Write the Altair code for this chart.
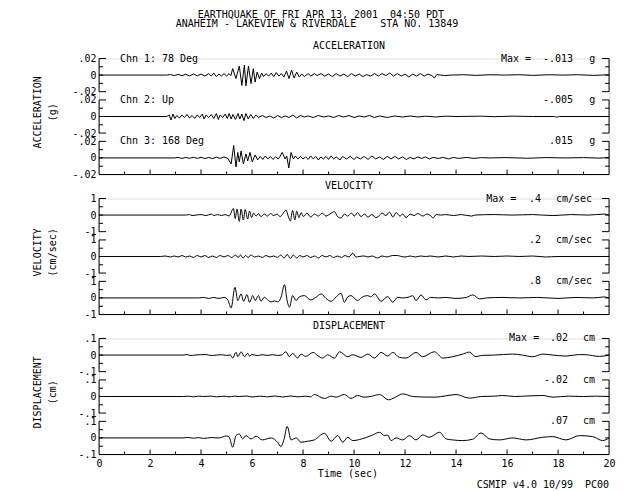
import altair as alt
import pandas as pd

FONT = "DejaVu Sans Mono"

# ---------------- data: (time s, value) turning points read from the records ----------------
ACC1 = [(0,0),(2.65,0),(2.8,.0006),(2.95,-.0006),(3.1,.0008),(3.25,-.0007),(3.4,.001),(3.55,-.001),(3.7,.0012),
        (3.85,-.0008),(4.0,.0012),(4.15,-.0012),(4.3,.0018),(4.4,-.0012),(4.5,.0024),(4.6,-.0018),(4.7,.0012),
        (4.8,-.0012),(4.9,.0018),(5.0,-.0012),(5.1,.0018),(5.17,-.0006),(5.24,.0078),(5.37,-.0042),(5.5,.0109),
        (5.6,-.0125),(5.7,.0121),(5.76,-.013),(5.86,.0109),(5.96,-.0103),(6.05,.0078),(6.12,-.0085),(6.2,.0036),
        (6.29,-.0042),(6.38,.0024),(6.45,-.0018),(6.55,.0018),(6.65,-.0012),(6.75,.0024),(6.85,-.0018),(6.95,.003),
        (7.05,-.0012),(7.15,.0018),(7.25,-.0024),(7.35,.0048),(7.45,-.0042),(7.55,.006),(7.65,-.0036),(7.75,.0036),
        (7.85,-.0024),(7.95,.0012),(8.05,-.0018),(8.2,.0018),(8.3,-.0012),(8.45,.0018),(8.55,-.0006),(8.7,.0018),
        (8.85,-.0012),(9.0,.0012),(9.15,-.0018),(9.3,.0018),(9.45,-.0012),(9.6,.0012),(9.75,-.0018),(9.9,.0018),
        (10.05,-.0012),(10.2,.0012),(10.35,-.0018),(10.5,.0006),(10.65,-.0012),(10.8,.0018),(10.95,-.0012),
        (11.1,.0018),(11.25,-.0006),(11.4,.0024),(11.55,-.0012),(11.7,.0018),(11.85,-.0012),(12.0,.0012),
        (12.15,-.0024),(12.3,.0012),(12.45,-.0012),(12.6,.0018),(12.75,-.0012),(12.9,.0012),(13.05,-.0006),
        (13.15,-.0036),(13.25,.0006),(13.4,0),(13.55,-.0006),(13.8,0),(14.3,.0004),(14.8,-.0004),(15.3,.0004),
        (15.9,0),(16.5,.0004),(17.0,-.0004),(17.6,.0004),(18.2,0),(18.8,.0004),(19.4,-.0004),(20,.0004)]
ACC2 = [(0,0),(2.65,0),(2.75,.0018),(2.82,-.0042),(2.9,.003),(2.97,-.0024),(3.05,.0012),(3.15,-.0018),(3.25,.0018),
        (3.35,-.0012),(3.45,.0024),(3.55,-.0018),(3.65,.0012),(3.75,-.0024),(3.85,.0018),(3.95,-.0012),(4.05,.003),
        (4.12,-.003),(4.2,.0018),(4.3,-.0012),(4.4,.0024),(4.5,-.0024),(4.6,.0036),(4.68,-.0036),(4.75,.0018),
        (4.85,-.0012),(4.95,.003),(5.03,-.0024),(5.1,.0036),(5.18,-.003),(5.25,.0024),(5.35,-.0036),(5.45,.0036),
        (5.52,-.003),(5.6,.003),(5.68,-.005),(5.76,.0036),(5.85,-.003),(5.95,.0024),(6.05,-.0024),(6.15,.0018),
        (6.25,-.0012),(6.4,.0012),(6.55,-.0012),(6.7,.0006),(6.85,-.0018),(7.0,.0012),(7.15,-.0012),(7.3,.0006),
        (7.45,-.0012),(7.6,.0018),(7.75,-.0018),(7.9,.0012),(8.05,-.0006),(8.2,.0006),(8.4,-.0012),(8.6,.0012),
        (8.8,-.0006),(9.0,.0006),(9.2,-.0012),(9.4,.0012),(9.6,-.0006),(9.8,.0012),(10.0,-.0012),(10.2,.0006),
        (10.4,-.0006),(10.6,.0012),(10.8,-.0012),(11.0,.0006),(11.3,-.0012),(11.6,.0006),(11.9,-.0006),(12.2,.0006),
        (12.5,-.0006),(12.8,.0004),(13.2,-.0006),(13.6,.0004),(14.0,0),(15.0,.0004),(15.5,-.0002),(16.2,.0004),
        (17.0,0),(17.85,0),(17.9,-.0006),(18.0,-.0006),(18.05,0),(20,0)]
ACC3 = [(0,0),(2.95,0),(3.1,.0006),(3.25,-.0006),(3.4,.0006),(3.55,-.0004),(3.7,.0008),(3.85,-.0006),(4.0,.0008),
        (4.15,-.0008),(4.3,.0006),(4.45,-.0008),(4.6,.001),(4.75,-.0006),(4.9,.0012),(5.05,-.0006),(5.18,-.0072),
        (5.28,.015),(5.37,-.0109),(5.44,.0066),(5.5,-.0048),(5.57,.0084),(5.66,-.0072),(5.76,.0048),(5.83,-.0036),
        (5.92,.0066),(6.01,-.0048),(6.12,.0036),(6.22,-.0024),(6.32,.0018),(6.42,-.0018),(6.52,.0024),(6.62,-.0012),
        (6.72,.0018),(6.82,-.0018),(6.92,.0012),(7.03,-.0012),(7.1,.0018),(7.18,.0066),(7.3,-.0012),(7.36,.0024),
        (7.44,-.0121),(7.53,.0066),(7.62,-.0012),(7.7,.0024),(7.8,-.0012),(7.9,.0018),(8.0,-.0012),(8.1,.0012),
        (8.2,-.0018),(8.3,.0024),(8.4,-.0012),(8.5,.0018),(8.6,-.0024),(8.7,.0012),(8.8,-.0012),(8.9,.0018),
        (9.0,-.0018),(9.1,.0024),(9.2,-.0012),(9.3,.0012),(9.45,-.0024),(9.55,.0018),(9.7,-.0012),(9.85,.0018),
        (10.0,-.0018),(10.1,.0012),(10.25,-.0012),(10.4,.0018),(10.55,-.0018),(10.7,.0024),(10.85,-.0012),
        (11.0,.0012),(11.15,-.0018),(11.3,.0018),(11.45,-.0012),(11.6,.0018),(11.75,-.0012),(11.9,.0012),
        (12.05,-.0018),(12.2,.0006),(12.35,-.0012),(12.5,.0012),(12.65,-.0006),(12.8,.0012),(12.95,-.0012),
        (13.1,.0006),(13.3,-.0006),(13.5,.0006),(13.7,-.0012),(13.9,.0006),(14.1,-.0006),(14.4,.0006),
        (14.7,-.0006),(15.0,.0004),(15.3,0),(16.0,.0004),(16.8,-.0004),(17.5,.0004),(18.3,0),(19.0,.0004),
        (19.6,-.0002),(20,.0004)]
VEL1 = [(0,0),(3.4,0),(3.55,.03),(3.65,-.03),(3.8,0),(4.0,.03),(4.2,-.03),(4.4,.06),(4.5,-.03),(4.65,.03),
        (4.8,-.03),(4.95,.03),(5.1,-.06),(5.27,.4),(5.34,-.2),(5.41,.36),(5.5,-.38),(5.57,.36),(5.66,-.3),
        (5.73,.33),(5.83,-.24),(5.9,.24),(5.98,-.15),(6.06,.12),(6.16,-.06),(6.25,.09),(6.35,-.09),(6.48,.06),
        (6.6,-.06),(6.72,.09),(6.85,-.03),(6.98,.06),(7.1,-.09),(7.2,.06),(7.33,.3),(7.43,-.12),(7.5,-.36),
        (7.59,.27),(7.68,-.3),(7.75,.24),(7.84,-.15),(7.92,.15),(8.02,-.09),(8.15,.12),(8.3,-.12),(8.45,.06),
        (8.6,-.06),(8.75,.12),(8.9,-.06),(9.05,.06),(9.23,.21),(9.35,-.09),(9.49,-.18),(9.62,.06),(9.75,-.06),
        (9.9,.12),(10.01,-.06),(10.14,.15),(10.27,-.09),(10.41,.06),(10.54,-.12),(10.7,.03),(10.85,-.15),
        (10.95,-.09),(11.1,.12),(11.25,-.03),(11.39,.18),(11.52,-.12),(11.65,.15),(11.8,-.06),(11.91,.06),
        (12.04,-.15),(12.2,.06),(12.35,-.03),(12.5,.09),(12.7,-.06),(12.85,.06),(13.0,-.03),(13.1,-.18),
        (13.22,.03),(13.4,0),(13.6,.03),(13.9,-.03),(14.2,.03),(14.6,-.06),(14.75,0),(15.5,.03),(16.2,0),
        (17.0,.03),(17.8,-.03),(18.5,.03),(19.2,0),(19.8,.06),(20,0)]
VEL2 = [(0,0),(2.4,0),(2.6,.03),(2.8,-.03),(2.95,.03),(3.1,-.03),(3.25,.06),(3.4,-.03),(3.55,.03),(3.7,-.06),
        (3.85,.06),(4.0,-.03),(4.15,.06),(4.3,-.06),(4.45,.03),(4.6,-.06),(4.75,.06),(4.9,-.03),(5.05,.06),
        (5.2,-.06),(5.35,.09),(5.45,-.06),(5.55,.09),(5.65,-.09),(5.75,.06),(5.85,-.06),(5.95,.09),(6.1,-.03),
        (6.25,.03),(6.4,-.06),(6.55,.06),(6.7,-.03),(6.85,.03),(7.0,-.06),(7.12,.09),(7.25,-.09),(7.38,.12),
        (7.5,-.12),(7.62,.09),(7.75,-.09),(7.88,.06),(8.0,-.03),(8.15,.06),(8.3,-.06),(8.45,.03),(8.6,-.09),
        (8.75,.06),(8.9,-.03),(9.05,.06),(9.2,-.06),(9.35,.03),(9.5,-.06),(9.65,.06),(9.8,-.03),(9.95,.2),
        (10.08,-.03),(10.2,0),(10.4,.03),(10.55,-.03),(10.7,.03),(10.93,-.09),(11.1,.03),(11.3,-.03),(11.5,.06),
        (11.7,.06),(11.85,0),(12.0,-.03),(12.2,.03),(12.4,-.03),(12.6,.03),(12.8,0),(13.0,.03),(13.3,-.03),
        (13.6,.03),(13.9,-.03),(14.2,.03),(14.5,0),(15.0,.03),(15.5,0),(16.0,.03),(16.5,0),(17.0,.03),
        (17.5,-.03),(18.0,0),(20,0)]
VEL3 = [(0,0),(3.9,0),(4.1,.03),(4.3,-.03),(4.5,.03),(4.7,-.03),(4.9,.03),(5.05,-.12),(5.18,-.6),(5.33,.64),
        (5.44,-.16),(5.57,.24),(5.67,-.2),(5.8,.2),(5.9,-.26),(6.03,.14),(6.12,-.16),(6.25,.14),(6.35,-.2),
        (6.48,.04),(6.61,-.12),(6.75,-.24),(6.88,-.18),(7.01,-.24),(7.14,.06),(7.27,.8),(7.38,-.2),(7.47,-.56),
        (7.59,.14),(7.73,-.16),(7.85,.06),(8.05,.14),(8.3,-.12),(8.5,.03),(8.71,.24),(8.9,-.03),(9.1,-.2),
        (9.3,.06),(9.49,.28),(9.62,-.26),(9.75,.06),(9.88,.14),(10.14,-.16),(10.3,.03),(10.54,.14),(10.65,.06),
        (10.8,.24),(11.06,-.2),(11.32,.08),(11.52,-.26),(11.7,.03),(11.9,0),(12.17,.06),(12.3,.14),(12.43,-.16),
        (12.63,.18),(12.82,-.12),(13.0,.03),(13.3,0),(13.6,.03),(14.0,-.03),(14.4,.03),(14.66,.18),(14.92,-.06),
        (15.2,0),(15.8,.03),(16.5,0),(17.2,.03),(18.0,-.03),(18.7,.03),(19.4,0),(19.8,.06),(20,0)]
DIS1 = [(0,0),(3.3,0),(3.45,.003),(3.6,-.003),(3.75,0),(4.2,.003),(4.4,-.003),(4.6,0),(4.8,.002),(5.0,-.002),
        (5.15,0),(5.24,-.018),(5.37,.016),(5.44,-.01),(5.57,.02),(5.7,-.01),(5.83,.01),(5.9,-.006),(6.0,.003),
        (6.2,-.003),(6.4,.002),(6.6,-.002),(6.8,.002),(7.0,-.002),(7.15,0),(7.33,.02),(7.46,-.01),(7.59,.01),
        (7.79,-.018),(7.92,.006),(8.1,-.008),(8.4,.016),(8.58,-.004),(8.76,-.018),(8.97,.002),(9.23,-.019),
        (9.43,.02),(9.75,-.01),(9.95,.002),(10.27,-.014),(10.54,.006),(10.8,-.018),(11.06,.016),(11.32,-.006),
        (11.52,.016),(11.78,-.014),(12.04,-.018),(12.43,.016),(12.69,-.01),(13.15,.02),(13.48,-.018),
        (13.87,-.01),(14.3,.008),(14.52,.018),(14.78,-.01),(15.0,-.002),(15.5,0),(16.22,.006),(16.6,0),
        (17.01,-.01),(17.4,.006),(17.8,0),(18.31,-.006),(18.8,.003),(19.1,.002),(19.62,-.008),(20,0)]
DIS2 = [(0,0),(3.3,0),(3.5,.002),(3.7,-.002),(3.9,.002),(4.1,0),(4.4,.002),(4.6,-.002),(4.9,.002),(5.1,-.002),
        (5.3,.002),(5.5,0),(5.8,.003),(6.0,-.003),(6.3,.002),(6.6,-.002),(6.9,.003),(7.2,-.003),(7.5,.003),
        (7.8,-.002),(8.1,.002),(8.3,-.002),(8.44,.012),(8.84,-.012),(9.1,.002),(9.3,-.004),(9.62,.012),
        (9.88,-.012),(10.14,.006),(10.4,-.004),(10.7,.002),(11.0,.012),(11.35,-.02),(11.6,-.006),(11.91,.016),
        (12.3,0),(12.7,-.003),(13.2,-.004),(13.6,.004),(14.0,.012),(14.52,-.01),(15.0,0),(15.5,.002),
        (15.83,.006),(16.3,0),(16.9,.004),(17.4,.006),(17.8,-.004),(18.4,.002),(19.0,0),(19.5,.002),(20,0)]
DIS3 = [(0,0),(3.3,0),(3.5,.003),(3.7,-.002),(3.9,.002),(4.1,-.003),(4.4,.002),(4.7,0),(5.0,.012),(5.1,.006),
        (5.24,-.056),(5.37,.014),(5.5,.024),(5.63,-.006),(5.76,.014),(5.96,-.006),(6.16,.01),(6.4,-.012),
        (6.75,0),(7.0,-.026),(7.13,-.052),(7.25,-.01),(7.38,.07),(7.53,-.012),(7.73,0),(7.92,-.026),
        (8.18,-.02),(8.44,-.012),(8.84,.028),(9.1,-.02),(9.36,.014),(9.56,-.026),(9.75,.004),(9.95,-.016),
        (10.3,-.006),(10.67,.014),(11.0,.034),(11.19,.014),(11.32,.018),(11.45,-.016),(11.65,0),(11.91,-.012),
        (12.17,.014),(12.43,-.012),(12.69,.018),(12.95,.004),(13.35,.034),(13.61,-.006),(13.87,-.012),
        (14.26,-.016),(14.65,-.008),(14.98,.03),(15.31,-.006),(15.7,-.012),(16.22,0),(16.75,-.012),(17.4,.004),
        (17.79,.008),(18.31,-.012),(18.84,.014),(19.36,.008),(19.75,-.016),(20,0)]

TRACES = [[ACC1, ACC2, ACC3], [VEL1, VEL2, VEL3], [DIS1, DIS2, DIS3]]
PANEL_TITLES = ["ACCELERATION", "VELOCITY", "DISPLACEMENT"]
PANEL_UNITS_LINE = ["(g)", "(cm/sec)", "(cm)"]
FULL_SCALE = [0.02, 1.0, 0.1]
SCALE_LABELS = [[".02", "0", "-.02"], ["1", "0", "-1"], [".1", "0", "-.1"]]
PEAKS = [["-.013", "-.005", ".015"], [".4", ".2", ".8"], [".02", "-.02", ".07"]]
UNITS = ["g", "cm/sec", "cm"]
CHANNELS = ["Chn 1: 78 Deg", "Chn 2: Up", "Chn 3: 168 Deg"]
HEADER = ["EARTHQUAKE OF FRI APR 13, 2001\u00a0\u00a004:50 PDT",
          "ANAHEIM - LAKEVIEW & RIVERDALE\u00a0\u00a0\u00a0\u00a0STA NO. 13849"]
FOOTER = "CSMIP v4.0 10/99\u00a0\u00a0PC00"
X_TITLE = "Time (sec)"
X_LABELS = [0, 2, 4, 6, 8, 10, 12, 14, 16, 18, 20]
X_MINOR = list(range(1, 20))

# ---------------- layout (axis units: seconds / full-scale units) ----------------
X_DOMAIN = [0, 20]
Y_DOMAIN = [-6, 1]
GAP = 2.5                      # distance between trace baselines, in full-scale units
W, H = 510, 116
PX_X = (X_DOMAIN[1] - X_DOMAIN[0]) / W      # seconds per pixel
PX_Y = (Y_DOMAIN[1] - Y_DOMAIN[0]) / H      # full-scale units per pixel
TICK_MAJOR, TICK_MINOR = 7, 4               # inward tick lengths (px) on trace axes
BTICK_EVEN, BTICK_ODD = 5, 3                # inward tick lengths (px) on time axis
MAX_X = [15.76, 15.18, 16.08]
VAL_X = [18.59, 17.33, 18.39]
UNIT_X = [19.22, 17.92, 18.98]
CHN_X = 0.82
TITLE_X, TITLE_Y = 9.8, 1.755
YT_X = [-2.41, -1.80]
YT_Y = -2.25
HEAD_X = [8.7, 8.55]
HEAD_Y = [3.655, 3.08]
TIME_X, TIME_Y = 9.76, -7.18
FOOT_Y = -7.84
INTERP = ["linear", "monotone", "monotone"]

TOP_V = [1, -1.5, -4]
ZERO_V = [0, -2.5, -5]
Y_VALUES = [1, 0, -1, -1.5, -2.5, -3.5, -4, -5, -6]


def make_panel(i):
    fs = FULL_SCALE[i]
    xs = alt.Scale(domain=X_DOMAIN, nice=False, zero=False)
    ys = alt.Scale(domain=Y_DOMAIN, nice=False, zero=False)
    lab = SCALE_LABELS[i]
    yax = alt.Axis(values=Y_VALUES, ticks=False, domain=False, grid=False, title=None,
                   labelExpr=(f"indexof({TOP_V}, datum.value) >= 0 ? '{lab[0]}' : "
                              f"(indexof({ZERO_V}, datum.value) >= 0 ? '{lab[1]}' : '{lab[2]}')"),
                   labelFont=FONT, labelFontSize=10, labelColor="black", labelPadding=3,
                   labelOverlap=False, labelFlush=False, labelBaseline="middle")
    if i == 2:
        xax = alt.Axis(values=X_LABELS, format="d", ticks=False, domain=False, grid=False, title=None,
                       labelFont=FONT, labelFontSize=10, labelColor="black", labelPadding=4,
                       labelOverlap=False, labelFlush=False)
    else:
        xax = None

    def X(f):
        return alt.X(f, type="quantitative", scale=xs, axis=xax)

    def Y(f):
        return alt.Y(f, type="quantitative", scale=ys, axis=yax)

    rows = []
    for k, tr in enumerate(TRACES[i]):
        for t, v in tr:
            rows.append({"key": f"p{i}tr{k}", "t": float(t), "y": v / fs - GAP * k})
    df = pd.DataFrame(rows)
    lines = alt.Chart(df).mark_line(color="black", strokeWidth=1, interpolate=INTERP[i]).encode(
        x=X("t"), y=Y("y"), detail="key:N")

    # frame: vertical axis lines of each trace, both ends
    x0, x1 = X_DOMAIN
    fr = pd.DataFrame([{"t": float(xe), "lo": -GAP * k - 1.0, "hi": -GAP * k + 1.0}
                       for k in range(3) for xe in (x0, x1)])
    frame = alt.Chart(fr).mark_rule(color="black", strokeWidth=1).encode(x=X("t"), y=Y("lo"), y2="hi")

    # inward ticks on trace axes, as short horizontal rules
    tk = []
    for k in range(3):
        off = -GAP * k
        for rel in (1, 0.5, 0, -0.5, -1):
            ln = (TICK_MAJOR if abs(rel) == 1 else TICK_MINOR) * PX_X
            tk.append({"t": float(x0), "t2": x0 + ln, "y": off + rel})
            tk.append({"t": float(x1), "t2": x1 - ln, "y": off + rel})
    ticks = alt.Chart(pd.DataFrame(tk)).mark_rule(color="black", strokeWidth=1).encode(
        x=X("t"), x2="t2", y=Y("y"))

    # time axis line and ticks
    yb = float(Y_DOMAIN[0])
    bt = [{"t": float(x0), "t2": float(x1), "y": yb, "y2": yb}]
    for s in X_MINOR:
        h = (BTICK_EVEN if s % 2 == 0 else BTICK_ODD) * PX_Y
        bt.append({"t": float(s), "t2": float(s), "y": yb, "y2": yb + h})
    bottom = alt.Chart(pd.DataFrame(bt)).mark_rule(color="black", strokeWidth=1).encode(
        x=X("t"), x2="t2", y=Y("y"), y2="y2")

    layers = [lines, frame, ticks, bottom]

    def text_layer(recs, **kw):
        return alt.Chart(pd.DataFrame(recs)).mark_text(
            font=FONT, fontSize=10, color="black", baseline="middle", **kw).encode(
            x=X("t"), y=Y("y"), text="text:N")

    left = []
    right = []
    center = [{"t": TITLE_X, "y": TITLE_Y, "text": PANEL_TITLES[i]}]
    for k in range(3):
        off = -GAP * k
        right.append({"t": VAL_X[i], "y": off + 1, "text": PEAKS[i][k]})
        left.append({"t": UNIT_X[i], "y": off + 1, "text": UNITS[i]})
        if i == 0:
            left.append({"t": CHN_X, "y": off + 1, "text": CHANNELS[k]})
    left.append({"t": MAX_X[i], "y": 1, "text": "Max ="})
    if i == 0:
        center += [{"t": HEAD_X[0], "y": HEAD_Y[0], "text": HEADER[0]},
                   {"t": HEAD_X[1], "y": HEAD_Y[1], "text": HEADER[1]}]
    if i == 2:
        center.append({"t": TIME_X, "y": TIME_Y, "text": X_TITLE})
        right.append({"t": X_DOMAIN[1], "y": FOOT_Y, "text": FOOTER})
    layers.append(text_layer(left, align="left"))
    layers.append(text_layer(right, align="right"))
    layers.append(text_layer(center, align="center"))
    rot = [{"t": YT_X[0], "y": YT_Y, "text": PANEL_TITLES[i]},
           {"t": YT_X[1], "y": YT_Y, "text": PANEL_UNITS_LINE[i]}]
    layers.append(text_layer(rot, align="center", angle=270))

    return alt.layer(*layers).properties(width=W, height=H)


chart = alt.vconcat(make_panel(0), make_panel(1), make_panel(2), spacing=24, bounds="flush").properties(
    padding={"left": 24.05, "top": 0.5, "right": 4, "bottom": 2}
).configure_view(stroke=None).configure(background="white")

chart.save("out.html", embed_options={"renderer": "svg", "actions": False})
